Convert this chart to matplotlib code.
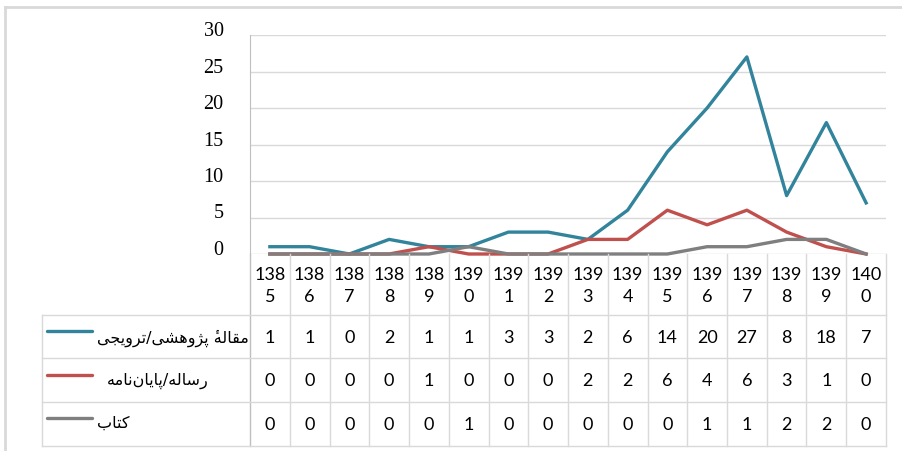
import matplotlib.pyplot as plt
from matplotlib.lines import Line2D

# publications per year (Solar Hijri)
years = ["1385", "1386", "1387", "1388", "1389", "1390", "1391", "1392",
         "1393", "1394", "1395", "1396", "1397", "1398", "1399", "1400"]
articles = [1, 1, 0, 2, 1, 1, 3, 3, 2, 6, 14, 20, 27, 8, 18, 7]
theses = [0, 0, 0, 0, 1, 0, 0, 0, 2, 2, 6, 4, 6, 3, 1, 0]
books = [0, 0, 0, 0, 0, 1, 0, 0, 0, 0, 0, 1, 1, 2, 2, 0]

names = ["مقالهٔ پژوهشی/ترویجی", "رساله/پایان\u200cنامه", "کتاب"]
colors = ["#31849b", "#c0504d", "#7f7f7f"]

# minimal Arabic/Persian shaping: (isolated, final, initial, medial)
FORMS = {
    "ا": ("\ufe8d", "\ufe8e", None, None),
    "ب": ("\ufe8f", "\ufe90", "\ufe91", "\ufe92"),
    "ت": ("\ufe95", "\ufe96", "\ufe97", "\ufe98"),
    "ج": ("\ufe9d", "\ufe9e", "\ufe9f", "\ufea0"),
    "ر": ("\ufead", "\ufeae", None, None),
    "ژ": ("\ufb8a", "\ufb8b", None, None),
    "س": ("\ufeb1", "\ufeb2", "\ufeb3", "\ufeb4"),
    "ش": ("\ufeb5", "\ufeb6", "\ufeb7", "\ufeb8"),
    "ق": ("\ufed5", "\ufed6", "\ufed7", "\ufed8"),
    "ل": ("\ufedd", "\ufede", "\ufedf", "\ufee0"),
    "م": ("\ufee1", "\ufee2", "\ufee3", "\ufee4"),
    "ن": ("\ufee5", "\ufee6", "\ufee7", "\ufee8"),
    "ه": ("\ufee9", "\ufeea", "\ufeeb", "\ufeec"),
    "و": ("\ufeed", "\ufeee", None, None),
    "پ": ("\ufb56", "\ufb57", "\ufb58", "\ufb59"),
    "ک": ("\ufb8e", "\ufb8f", "\ufb90", "\ufb91"),
    "ی": ("\ufbfc", "\ufbfd", "\ufbfe", "\ufbff"),
}
MARKS = "\u0654"


def shape(s):
    out = []
    for i, c in enumerate(s):
        if c in MARKS:
            out[-1] = c + out[-1]  # mark drawn over its base letter
            continue
        if c not in FORMS:
            if c != "\u200c":
                out.append(c)
            continue
        iso, fin, ini, med = FORMS[c]
        prev = s[i - 1] if i > 0 else ""
        nxt = s[i + 1] if i + 1 < len(s) else ""
        jp = prev in FORMS and FORMS[prev][2] is not None
        jn = nxt in FORMS and ini is not None
        if jp and jn:
            out.append(med)
        elif jp:
            out.append(fin)
        elif jn:
            out.append(ini)
        else:
            out.append(iso)
    return "".join(reversed(out))


W, H = 902, 452
fig = plt.figure(figsize=(W / 100, H / 100), dpi=100)

ax = fig.add_axes([250 / W, 1 - 255 / H, 636 / W, 219 / H])
x = range(len(years))
for vals, c in zip([articles, theses, books], colors):
    ax.plot(x, vals, color=c, lw=2.4, solid_joinstyle="round", clip_on=False)

ax.set_xlim(-0.5, len(years) - 0.5)
ax.set_ylim(0, 30)
ax.set_yticks(range(0, 31, 5))
ax.set_xticks([])
ax.grid(axis="y", color="#d9d9d9", lw=1)
ax.set_axisbelow(True)
for s in ["top", "right", "bottom"]:
    ax.spines[s].set_visible(False)
ax.spines["left"].set_color("#bfbfbf")
ax.tick_params(axis="y", length=0, pad=19, labelsize=14.5)
for lbl in ax.get_yticklabels():
    lbl.set_fontfamily("Liberation Serif")
    lbl.set_va("baseline")

# data table under the plot
tab = fig.add_axes([250 / W, 1 - 447 / H, 636 / W, 192 / H])
tab.set_xlim(-0.5, len(years) - 0.5)
tab.set_ylim(447, 255)
tab.axis("off")
unit = 636 / len(years)
left = -0.5 - (250 - 42) / unit
gc = "#d9d9d9"

for k in range(len(years) + 1):
    tab.plot([k - 0.5, k - 0.5], [255, 447], color="#bfbfbf" if k == 0 else gc,
             lw=1, clip_on=False)
for yy in [316, 359, 403, 447]:
    tab.plot([left, len(years) - 0.5], [yy, yy], color=gc, lw=1, clip_on=False)
tab.plot([left, left], [316, 447], color=gc, lw=1, clip_on=False)

for i, yr in enumerate(years):
    tab.text(i, 286, yr[:3] + "\n" + yr[3:], ha="center", va="center",
             fontsize=13, family="Lato", linespacing=1.45)

rows_y = [338, 381, 425]
for vals, ry in zip([articles, theses, books], rows_y):
    for i, v in enumerate(vals):
        tab.text(i, ry, str(v), ha="center", va="center", fontsize=13, family="Lato")

key_y = [332, 376, 419]
text_x = [97, 107, 97]
text_y = [338, 381, 423]
for name, c, ky, tx, ty in zip(names, colors, key_y, text_x, text_y):
    tab.plot([left + 5 / unit, left + 50 / unit], [ky, ky], color=c, lw=2.4,
             solid_capstyle="round", clip_on=False)
    tab.text(-0.5 - (250 - tx) / unit, ty, shape(name), ha="left", va="center",
             fontsize=11.5, family=["DejaVu Sans"])

# outer frame
fig.add_artist(Line2D([5 / W, 1], [1 - 7.5 / H, 1 - 7.5 / H], color=gc, lw=2))
fig.add_artist(Line2D([5 / W, 5 / W], [0, 1 - 7.5 / H], color=gc, lw=2))

fig.savefig("out.png", dpi=100)
